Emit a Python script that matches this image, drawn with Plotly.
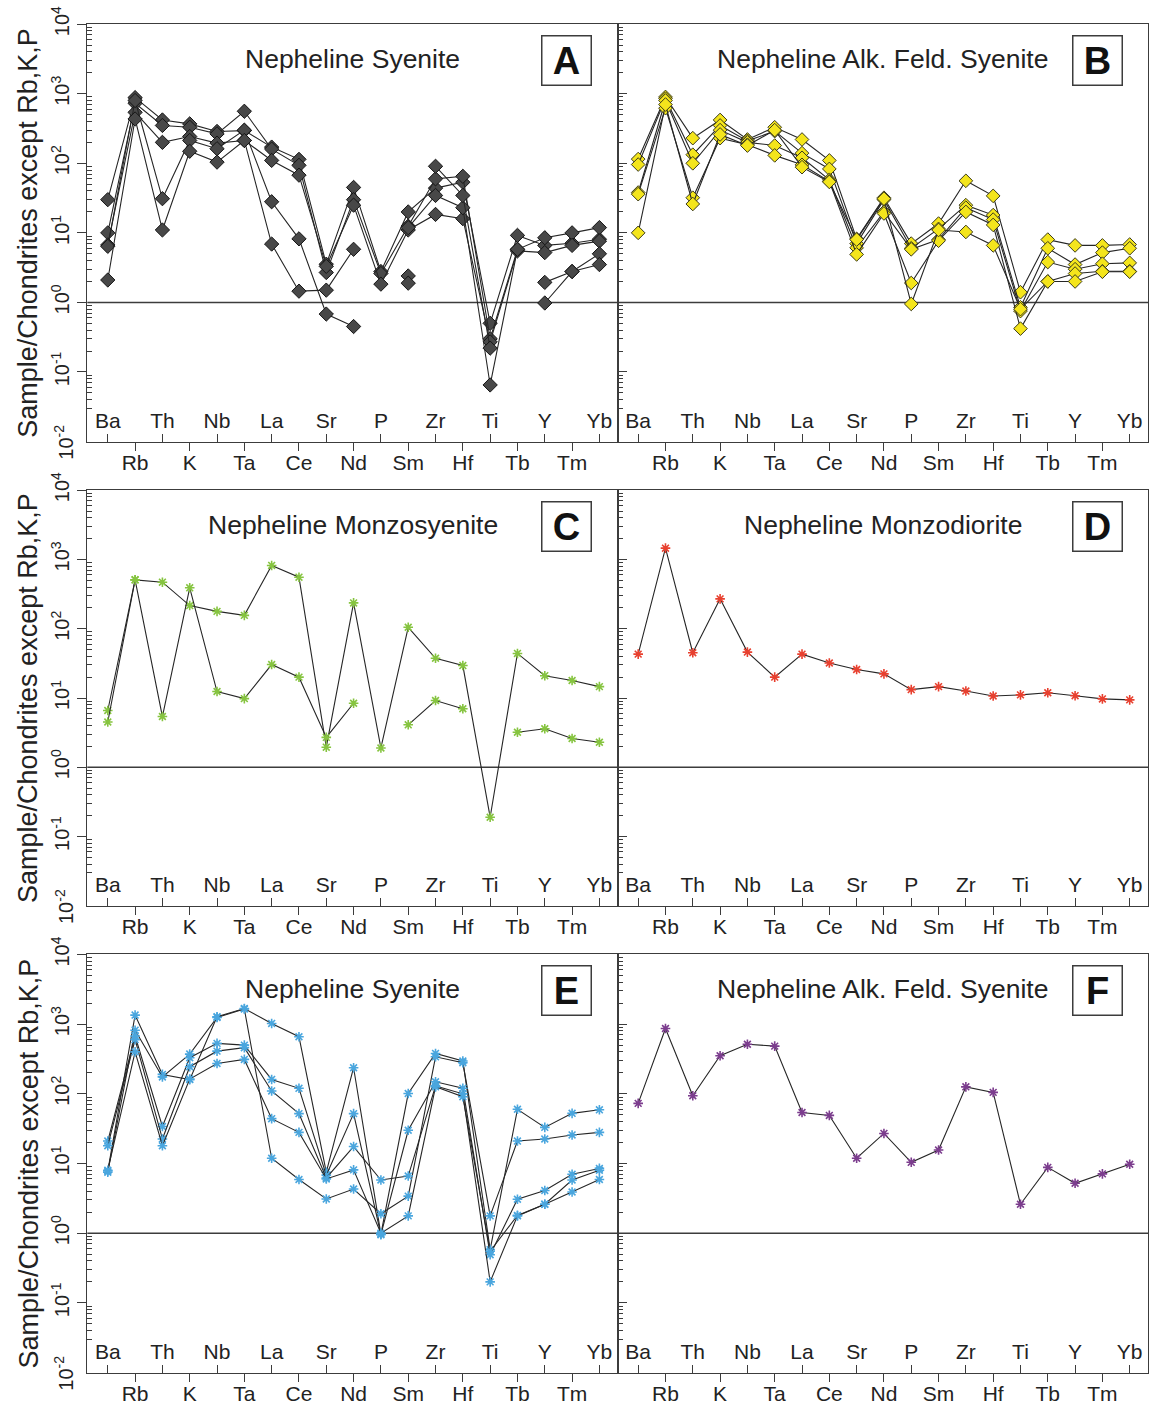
import plotly.graph_objects as go

# ---------------- data ----------------
elements = ["Ba", "Rb", "Th", "K", "Nb", "Ta", "La", "Ce", "Sr", "Nd",
            "P", "Sm", "Zr", "Hf", "Ti", "Tb", "Y", "Tm", "Yb"]
N = None

# Panel A - Nepheline Syenite (diamonds, dark grey)
A1 = [30, 880, 420, 369, 287, 295, 171, 114, 3.54, 45, 2.78, 20, 44, 53.5, 0.50, 9.2, 6.6, 7.1, 8.1]
A2 = [10, 730, 350, 330, 265, 560, 160, 93.5, 2.69, 30, 2.6, 12.5, 59.8, 65, 0.30, 5.8, 8.5, 10, 11.9]
A3 = [6.7, 540, 200, 243, 195, 213, 110, 67.5, 3.3, 25, 1.83, 11, 18.4, 16, 0.27, 5.5, 5.2, 6.6, 7.6]
A4 = [6.4, 800, 31, 213, 162, 300, 28, 8.2, 0.68, 0.45, N, 2.4, N, N, N, N, 1.94, 2.78, 5.0]
A5 = [2.1, 434, 11, 149, 104, 213, 6.9, 1.45, 1.5, 5.8, N, 1.89, N, N, N, N, 0.98, 2.78, 3.5]
A6 = [N, N, N, N, N, N, N, N, N, N, N, 11.9, 34.5, 23, 0.065, 5.8, N, N, N]
A7 = [N, N, N, N, N, N, N, N, N, N, N, N, 90.6, 34.5, 0.22, N, N, N, N]

# Panel B - Nepheline Alk. Feld. Syenite (diamonds, yellow)
B1 = [115, 900, 230, 420, 220, 330, 220, 110, 8.2, 32, 7, 13.6, 56, 34, 1.4, 8, 6.6, 6.6, 6.8]
B2 = [96, 850, 133, 350, 210, 290, 140, 83, 7, 30, 6, 11.4, 25, 18, 0.85, 6, 3.5, 5.2, 6]
B3 = [38, 800, 100, 300, 200, 180, 120, 58, 6.1, 20, 5.8, 8, 23, 15.5, 0.75, 3.8, 3.0, 3.6, 3.7]
B4 = [36, 620, 32, 230, 185, 130, 95, 55, 4.9, 19, 1.9, 7.7, 20, 13, 0.42, 2, 2.6, 2.8, 2.8]
B5 = [10, 700, 26, 260, 180, 300, 88, 54, 8, 31, 0.95, 11, 10.3, 6.6, 0.8, 2.0, 2.0, 2.76, 2.76]

# Panel C - Nepheline Monzosyenite (green asterisks)
C1 = [6.6, 508, 470, 216, 178, 156, 820, 555, 1.95, 236, 1.9, 105, 37.5, 29.4, 0.19, 44, 21, 17.9, 14.6]
C2 = [4.5, 508, 5.4, 390, 12.4, 9.8, 30.4, 20, 2.7, 8.4, N, 4.1, 9.2, 7.0, N, 3.2, 3.6, 2.6, 2.3]

# Panel D - Nepheline Monzodiorite (red asterisks)
D1 = [43, 1456, 45, 270, 46, 20, 43, 32, 25.8, 22.3, 13.2, 14.6, 12.6, 10.7, 11.1, 11.9, 10.8, 9.7, 9.4]

# Panel E - Nepheline Syenite (blue asterisks)
E1 = [7.8, 1350, 190, 160, 1280, 1680, 1025, 660, 7.5, 237, 0.97, 101, 380, 296, 0.58, 60, 33, 52.5, 59]
E2 = [7.5, 820, 175, 372, 1250, 1650, 11.9, 5.9, 3.1, 4.3, 1.9, 3.4, 340, 280, 1.77, 21, 22.5, 25.7, 28]
E3 = [21, 676, 34, 330, 530, 500, 161, 120, 6.8, 52, 0.95, 30, 149, 120, 0.49, 3.07, 4.1, 7.0, 8.5]
E4 = [18, 600, 22.5, 245, 410, 460, 110, 52, 6.2, 17.5, 5.8, 6.6, 130, 100, 0.2, 1.77, 2.6, 5.8, 8.0]
E5 = [8.0, 400, 18, 163, 273, 312, 44, 28, 6.0, 8.1, 1.0, 1.77, 126, 91, 0.55, 1.8, 2.6, 3.9, 5.9]

# Panel F - Nepheline Alk. Feld. Syenite (purple asterisks)
F1 = [73, 867, 94, 352, 515, 484, 54, 49, 11.9, 27, 10.4, 15.6, 126, 105, 2.6, 8.8, 5.2, 7.1, 9.75]

panel_titles = ["Nepheline Syenite", "Nepheline Alk. Feld. Syenite",
                "Nepheline Monzosyenite", "Nepheline Monzodiorite",
                "Nepheline Syenite", "Nepheline Alk. Feld. Syenite"]
panel_letters = ["A", "B", "C", "D", "E", "F"]
y_title = "Sample/Chondrites except Rb,K,P"
decades = [-2, -1, 0, 1, 2, 3, 4]

# ---------------- styling ----------------
FONT = "Arial, Liberation Sans, Helvetica, sans-serif"
AX = "#3c3c3c"
LINE = "#262626"

diamond_dark = dict(symbol="diamond", size=11, color="#484848",
                    line=dict(color="#151515", width=1))
diamond_yel = dict(symbol="diamond", size=10.5, color="#f4e51c",
                   line=dict(color="#3a3a1a", width=1))


def star(col):
    return dict(symbol="asterisk-open", size=8, color=col,
                line=dict(color=col, width=1.6))


panels = [
    ([A1, A2, A3, A4, A5, A6, A7], diamond_dark),
    ([B1, B2, B3, B4, B5], diamond_yel),
    ([C1, C2], star("#86c440")),
    ([D1], star("#e8402f")),
    ([E1, E2, E3, E4, E5], star("#4aa6de")),
    ([F1], star("#7c3d8e")),
]

W, H = 1151, 1405
col_px = [(87.3, 617.7), (617.7, 1148)]
col_dom = [[a / W, b / W] for a, b in col_px]
row_px = [(24, 441.7), (490, 906), (954.3, 1372.7)]
row_dom = [[1 - b / H, 1 - t / H] for t, b in row_px]

xr = [-0.75, 18.67]
yr = [-2.003, 4.003]
idx = list(range(len(elements)))
even_vals = idx[0::2]
odd_vals = idx[1::2]
minor_vals = [m * 10 ** e for e in range(-2, 4) for m in range(2, 10)]


def axname(letter, k):
    return letter if k == 1 else f"{letter}{k}"


fig = go.Figure()
layout = {}
annotations = []
shapes = []

for k, (series, mk) in enumerate(panels, start=1):
    r, c = divmod(k - 1, 2)
    xa = axname("x", k)
    xb = f"x{k + 6}"
    ya = axname("y", k)
    for s in series:
        fig.add_trace(go.Scatter(
            x=idx, y=s, mode="lines+markers", xaxis=xa, yaxis=ya,
            line=dict(color=LINE, width=1.1), marker=mk,
            connectgaps=False, showlegend=False, hoverinfo="skip"))
    # carrier (draws nothing) so that the second label row axis is rendered
    fig.add_trace(go.Scatter(
        x=odd_vals, y=[1] * len(odd_vals), mode="none", xaxis=xb, yaxis=ya,
        showlegend=False, hoverinfo="skip"))

    layout[f"xaxis{k}"] = dict(
        domain=col_dom[c], anchor=ya, range=xr, tickmode="array",
        tickvals=even_vals, ticktext=[elements[i] for i in even_vals],
        ticks="inside", ticklen=8, tickwidth=1.2, tickcolor=AX,
        ticklabelposition="inside", ticklabelstandoff=3,
        showline=True, linecolor=AX,
        linewidth=1.3, mirror=True, showgrid=False, zeroline=False,
        automargin=False,
        tickfont=dict(family=FONT, size=21, color="#222"))
    layout[f"xaxis{k + 6}"] = dict(
        overlaying=xa, anchor=ya, side="bottom", range=xr, tickmode="array",
        tickvals=odd_vals, ticktext=[elements[i] for i in odd_vals],
        ticks="outside", ticklen=8, tickwidth=1.2, tickcolor=AX,
        ticklabelstandoff=-6,
        showline=False, showgrid=False, zeroline=False, automargin=False,
        tickfont=dict(family=FONT, size=21, color="#222"))
    layout[f"yaxis{k}"] = dict(
        domain=row_dom[r], anchor=xa, type="log", range=yr,
        tickmode="array", tickvals=[10.0 ** d for d in decades],
        ticktext=[f"10<sup>{d}</sup>" for d in decades],
        tickangle=-90, showticklabels=(c == 0),
        ticks="outside" if c == 0 else "inside", ticklen=9, tickwidth=1.2,
        tickcolor=AX, showline=True, linecolor=AX, linewidth=1.3,
        mirror=True, showgrid=False, zeroline=False, automargin=False,
        minor=dict(ticks="inside", ticklen=5, tickwidth=1, tickcolor=AX,
                   tickmode="array", tickvals=minor_vals, showgrid=False),
        tickfont=dict(family=FONT, size=20, color="#222"))

    shapes.append(dict(type="line", xref=f"{xa} domain", x0=0, x1=1,
                       yref=ya, y0=1, y1=1,
                       line=dict(color=AX, width=1.5), layer="below"))

    annotations.append(dict(
        text=panel_titles[k - 1], xref=f"{xa} domain", yref=f"{ya} domain",
        x=0.5, y=0.917, xanchor="center", yanchor="middle", showarrow=False,
        font=dict(family=FONT, size=26.5, color="#222")))
    annotations.append(dict(
        text=f"<b>{panel_letters[k - 1]}</b>", xref=f"{xa} domain",
        yref=f"{ya} domain", x=0.904, y=0.913, xanchor="center",
        yanchor="middle", showarrow=False, width=46, height=46,
        bordercolor=AX, borderwidth=1.5, borderpad=1, bgcolor="white",
        font=dict(family=FONT, size=38, color="#111")))

    if c == 0:
        ymid = (row_dom[r][0] + row_dom[r][1]) / 2
        annotations.append(dict(
            text=y_title, xref="paper", yref="paper", x=28 / W, y=ymid,
            xanchor="center", yanchor="middle", textangle=-90,
            showarrow=False, font=dict(family=FONT, size=27, color="#222")))
        # lowest decade label (plotly hides it next to the inside x labels)
        annotations.append(dict(
            text=f"10<sup>{decades[0]}</sup>", xref="paper",
            yref=f"{ya} domain", x=64 / W, y=0, xanchor="center",
            yanchor="middle", textangle=-90, showarrow=False,
            font=dict(family=FONT, size=20, color="#222")))

fig.update_layout(
    template="none",
    width=W, height=H, margin=dict(l=0, r=0, t=0, b=0, pad=0),
    paper_bgcolor="white", plot_bgcolor="white",
    font=dict(family=FONT, color="#222"),
    annotations=annotations, shapes=shapes, **layout)

fig.write_html("out.html", config={"displayModeBar": False},
               post_script="document.body.style.margin='0px';")
